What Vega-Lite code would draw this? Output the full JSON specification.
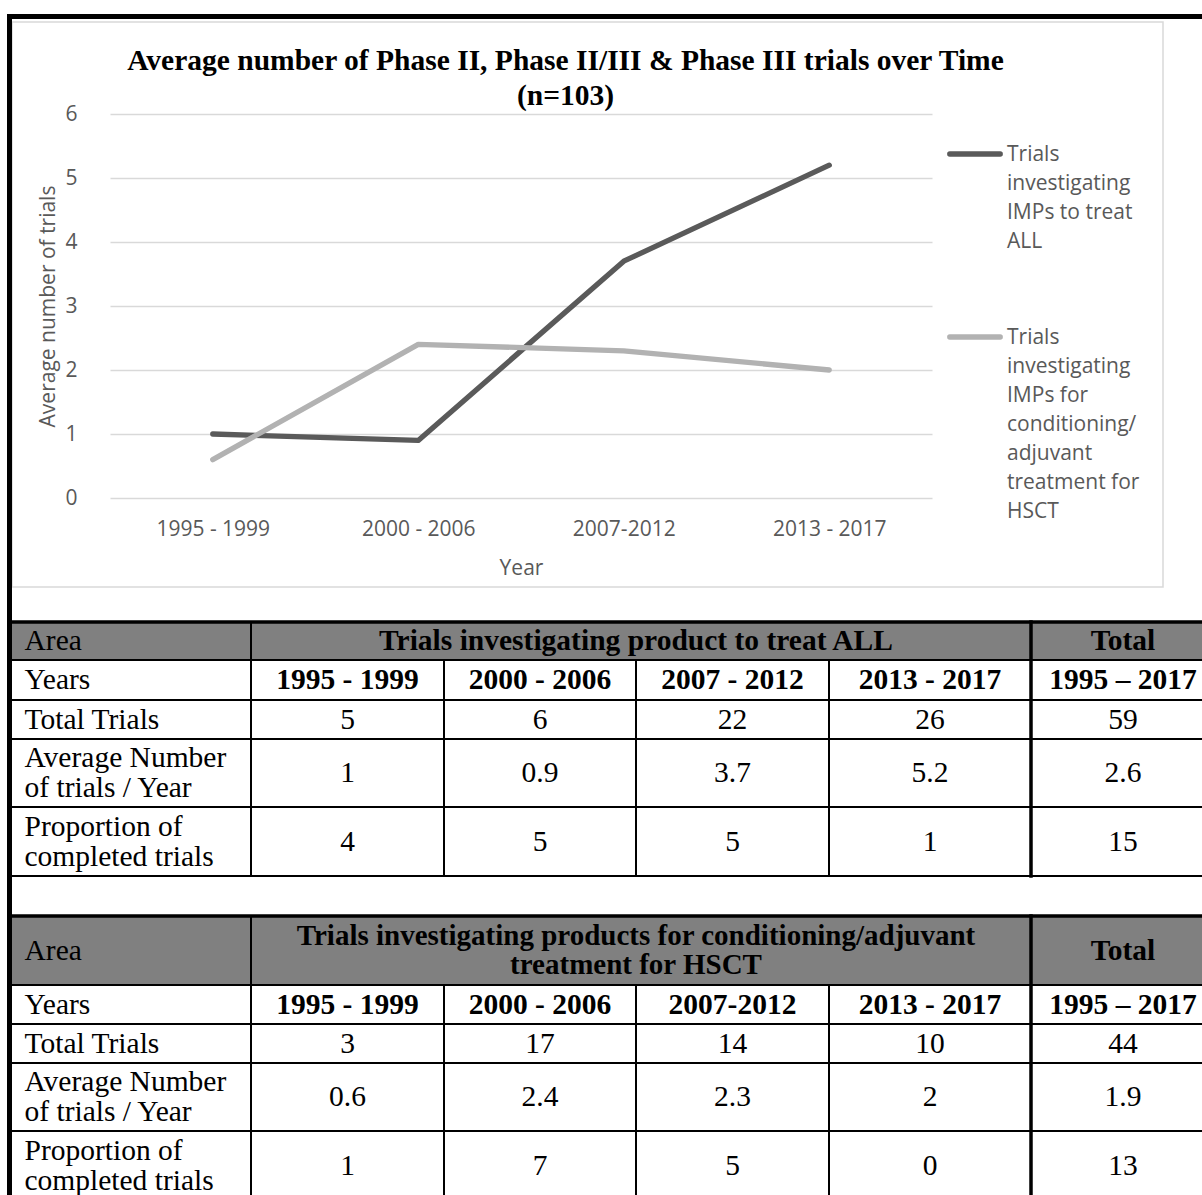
{
  "$schema": "https://vega.github.io/schema/vega-lite/v6.json",
  "width": 1151,
  "height": 565,
  "autosize": {"type": "none"},
  "padding": {"left": 12, "top": 22, "right": 39, "bottom": 608},
  "background": "white",
  "config": {
    "view": {"stroke": "#d9d9d9", "strokeWidth": 1.5},
    "font": "Liberation Serif"
  },
  "title": {
    "text": ["Average number of Phase II, Phase II/III & Phase III trials over Time", "(n=103)"],
    "font": "Liberation Serif",
    "fontSize": 29.5,
    "fontWeight": "bold",
    "color": "black",
    "anchor": "middle",
    "frame": "group",
    "dx": -22,
    "offset": -99,
    "lineHeight": 35
  },
  "datasets": {
    "averages": [
      {"period": "1995 - 1999", "series": "Trials investigating IMPs to treat ALL", "average": 1},
      {"period": "2000 - 2006", "series": "Trials investigating IMPs to treat ALL", "average": 0.9},
      {"period": "2007-2012", "series": "Trials investigating IMPs to treat ALL", "average": 3.7},
      {"period": "2013 - 2017", "series": "Trials investigating IMPs to treat ALL", "average": 5.2},
      {"period": "1995 - 1999", "series": "Trials investigating IMPs for conditioning/ adjuvant treatment for HSCT", "average": 0.6},
      {"period": "2000 - 2006", "series": "Trials investigating IMPs for conditioning/ adjuvant treatment for HSCT", "average": 2.4},
      {"period": "2007-2012", "series": "Trials investigating IMPs for conditioning/ adjuvant treatment for HSCT", "average": 2.3},
      {"period": "2013 - 2017", "series": "Trials investigating IMPs for conditioning/ adjuvant treatment for HSCT", "average": 2}
    ],
    "cells": [
      {"table": "ALL", "measure": "Area", "colStart": 0, "colEnd": 1, "rowStart": 1, "rowEnd": 2, "text": "Area"},
      {"table": "ALL", "measure": "Area", "colStart": 1, "colEnd": 5, "rowStart": 1, "rowEnd": 2, "text": "Trials investigating product to treat ALL"},
      {"table": "ALL", "measure": "Area", "colStart": 5, "colEnd": 6, "rowStart": 1, "rowEnd": 2, "text": "Total"},
      {"table": "ALL", "measure": "Years", "colStart": 0, "colEnd": 1, "rowStart": 2, "rowEnd": 3, "text": "Years"},
      {"table": "ALL", "measure": "Years", "colStart": 1, "colEnd": 2, "rowStart": 2, "rowEnd": 3, "text": "1995 - 1999"},
      {"table": "ALL", "measure": "Years", "colStart": 2, "colEnd": 3, "rowStart": 2, "rowEnd": 3, "text": "2000 - 2006"},
      {"table": "ALL", "measure": "Years", "colStart": 3, "colEnd": 4, "rowStart": 2, "rowEnd": 3, "text": "2007 - 2012"},
      {"table": "ALL", "measure": "Years", "colStart": 4, "colEnd": 5, "rowStart": 2, "rowEnd": 3, "text": "2013 - 2017"},
      {"table": "ALL", "measure": "Years", "colStart": 5, "colEnd": 6, "rowStart": 2, "rowEnd": 3, "text": "1995 – 2017"},
      {"table": "ALL", "measure": "Total", "colStart": 0, "colEnd": 1, "rowStart": 3, "rowEnd": 4, "text": "Total Trials"},
      {"table": "ALL", "measure": "Total", "colStart": 1, "colEnd": 2, "rowStart": 3, "rowEnd": 4, "text": "5"},
      {"table": "ALL", "measure": "Total", "colStart": 2, "colEnd": 3, "rowStart": 3, "rowEnd": 4, "text": "6"},
      {"table": "ALL", "measure": "Total", "colStart": 3, "colEnd": 4, "rowStart": 3, "rowEnd": 4, "text": "22"},
      {"table": "ALL", "measure": "Total", "colStart": 4, "colEnd": 5, "rowStart": 3, "rowEnd": 4, "text": "26"},
      {"table": "ALL", "measure": "Total", "colStart": 5, "colEnd": 6, "rowStart": 3, "rowEnd": 4, "text": "59"},
      {"table": "ALL", "measure": "Average", "colStart": 0, "colEnd": 1, "rowStart": 4, "rowEnd": 5, "text": "Average Number\nof trials / Year"},
      {"table": "ALL", "measure": "Average", "colStart": 1, "colEnd": 2, "rowStart": 4, "rowEnd": 5, "text": "1"},
      {"table": "ALL", "measure": "Average", "colStart": 2, "colEnd": 3, "rowStart": 4, "rowEnd": 5, "text": "0.9"},
      {"table": "ALL", "measure": "Average", "colStart": 3, "colEnd": 4, "rowStart": 4, "rowEnd": 5, "text": "3.7"},
      {"table": "ALL", "measure": "Average", "colStart": 4, "colEnd": 5, "rowStart": 4, "rowEnd": 5, "text": "5.2"},
      {"table": "ALL", "measure": "Average", "colStart": 5, "colEnd": 6, "rowStart": 4, "rowEnd": 5, "text": "2.6"},
      {"table": "ALL", "measure": "Completed", "colStart": 0, "colEnd": 1, "rowStart": 5, "rowEnd": 6, "text": "Proportion of\ncompleted trials"},
      {"table": "ALL", "measure": "Completed", "colStart": 1, "colEnd": 2, "rowStart": 5, "rowEnd": 6, "text": "4"},
      {"table": "ALL", "measure": "Completed", "colStart": 2, "colEnd": 3, "rowStart": 5, "rowEnd": 6, "text": "5"},
      {"table": "ALL", "measure": "Completed", "colStart": 3, "colEnd": 4, "rowStart": 5, "rowEnd": 6, "text": "5"},
      {"table": "ALL", "measure": "Completed", "colStart": 4, "colEnd": 5, "rowStart": 5, "rowEnd": 6, "text": "1"},
      {"table": "ALL", "measure": "Completed", "colStart": 5, "colEnd": 6, "rowStart": 5, "rowEnd": 6, "text": "15"},
      {"table": "HSCT", "measure": "Area", "colStart": 0, "colEnd": 1, "rowStart": 7, "rowEnd": 8, "text": "Area"},
      {"table": "HSCT", "measure": "Area", "colStart": 1, "colEnd": 5, "rowStart": 7, "rowEnd": 8, "text": "Trials investigating products for conditioning/adjuvant\ntreatment for HSCT"},
      {"table": "HSCT", "measure": "Area", "colStart": 5, "colEnd": 6, "rowStart": 7, "rowEnd": 8, "text": "Total"},
      {"table": "HSCT", "measure": "Years", "colStart": 0, "colEnd": 1, "rowStart": 8, "rowEnd": 9, "text": "Years"},
      {"table": "HSCT", "measure": "Years", "colStart": 1, "colEnd": 2, "rowStart": 8, "rowEnd": 9, "text": "1995 - 1999"},
      {"table": "HSCT", "measure": "Years", "colStart": 2, "colEnd": 3, "rowStart": 8, "rowEnd": 9, "text": "2000 - 2006"},
      {"table": "HSCT", "measure": "Years", "colStart": 3, "colEnd": 4, "rowStart": 8, "rowEnd": 9, "text": "2007-2012"},
      {"table": "HSCT", "measure": "Years", "colStart": 4, "colEnd": 5, "rowStart": 8, "rowEnd": 9, "text": "2013 - 2017"},
      {"table": "HSCT", "measure": "Years", "colStart": 5, "colEnd": 6, "rowStart": 8, "rowEnd": 9, "text": "1995 – 2017"},
      {"table": "HSCT", "measure": "Total", "colStart": 0, "colEnd": 1, "rowStart": 9, "rowEnd": 10, "text": "Total Trials"},
      {"table": "HSCT", "measure": "Total", "colStart": 1, "colEnd": 2, "rowStart": 9, "rowEnd": 10, "text": "3"},
      {"table": "HSCT", "measure": "Total", "colStart": 2, "colEnd": 3, "rowStart": 9, "rowEnd": 10, "text": "17"},
      {"table": "HSCT", "measure": "Total", "colStart": 3, "colEnd": 4, "rowStart": 9, "rowEnd": 10, "text": "14"},
      {"table": "HSCT", "measure": "Total", "colStart": 4, "colEnd": 5, "rowStart": 9, "rowEnd": 10, "text": "10"},
      {"table": "HSCT", "measure": "Total", "colStart": 5, "colEnd": 6, "rowStart": 9, "rowEnd": 10, "text": "44"},
      {"table": "HSCT", "measure": "Average", "colStart": 0, "colEnd": 1, "rowStart": 10, "rowEnd": 11, "text": "Average Number\nof trials / Year"},
      {"table": "HSCT", "measure": "Average", "colStart": 1, "colEnd": 2, "rowStart": 10, "rowEnd": 11, "text": "0.6"},
      {"table": "HSCT", "measure": "Average", "colStart": 2, "colEnd": 3, "rowStart": 10, "rowEnd": 11, "text": "2.4"},
      {"table": "HSCT", "measure": "Average", "colStart": 3, "colEnd": 4, "rowStart": 10, "rowEnd": 11, "text": "2.3"},
      {"table": "HSCT", "measure": "Average", "colStart": 4, "colEnd": 5, "rowStart": 10, "rowEnd": 11, "text": "2"},
      {"table": "HSCT", "measure": "Average", "colStart": 5, "colEnd": 6, "rowStart": 10, "rowEnd": 11, "text": "1.9"},
      {"table": "HSCT", "measure": "Completed", "colStart": 0, "colEnd": 1, "rowStart": 11, "rowEnd": 12, "text": "Proportion of\ncompleted trials"},
      {"table": "HSCT", "measure": "Completed", "colStart": 1, "colEnd": 2, "rowStart": 11, "rowEnd": 12, "text": "1"},
      {"table": "HSCT", "measure": "Completed", "colStart": 2, "colEnd": 3, "rowStart": 11, "rowEnd": 12, "text": "7"},
      {"table": "HSCT", "measure": "Completed", "colStart": 3, "colEnd": 4, "rowStart": 11, "rowEnd": 12, "text": "5"},
      {"table": "HSCT", "measure": "Completed", "colStart": 4, "colEnd": 5, "rowStart": 11, "rowEnd": 12, "text": "0"},
      {"table": "HSCT", "measure": "Completed", "colStart": 5, "colEnd": 6, "rowStart": 11, "rowEnd": 12, "text": "13"}
    ],
    "borders": [
      {"colStart": 0, "colEnd": 6, "rowStart": 0, "rowEnd": 0, "weight": "frame"},
      {"colStart": 0, "colEnd": 0, "rowStart": 0, "rowEnd": 12, "weight": "frame"},
      {"colStart": 0, "colEnd": 6, "rowStart": 1, "rowEnd": 1, "weight": "heavy"},
      {"colStart": 0, "colEnd": 6, "rowStart": 7, "rowEnd": 7, "weight": "heavy"},
      {"colStart": 5, "colEnd": 5, "rowStart": 1, "rowEnd": 6, "weight": "heavy"},
      {"colStart": 5, "colEnd": 5, "rowStart": 7, "rowEnd": 12, "weight": "heavy"}
    ]
  },
  "layer": [
    {
      "data": {"name": "averages"},
      "mark": {"type": "line", "strokeWidth": 5.3, "strokeCap": "round", "strokeJoin": "round"},
      "encoding": {
        "x": {
          "field": "period",
          "type": "ordinal",
          "scale": {"type": "point", "range": [98, 920], "padding": 0.5},
          "axis": {
            "title": "Year",
            "labelAngle": 0,
            "domain": false,
            "ticks": false,
            "grid": false,
            "labelPadding": -58,
            "labelBaseline": "middle",
            "labelFont": "Open Sans",
            "labelFontSize": 21,
            "labelColor": "#595959",
            "titleFont": "Open Sans",
            "titleFontSize": 21,
            "titleFontWeight": "normal",
            "titleColor": "#595959",
            "titleY": -19,
            "titleBaseline": "middle"
          }
        },
        "y": {
          "field": "average",
          "type": "quantitative",
          "scale": {"domain": [0, 6], "range": [476, 92], "nice": false},
          "axis": {
            "title": "Average number of trials",
            "values": [0, 1, 2, 3, 4, 5, 6],
            "domain": false,
            "ticks": false,
            "grid": true,
            "gridColor": "#d9d9d9",
            "gridWidth": 1.5,
            "labelPadding": -65,
            "labelFont": "Open Sans",
            "labelFontSize": 21,
            "labelColor": "#595959",
            "titleFont": "Open Sans",
            "titleFontSize": 21,
            "titleFontWeight": "normal",
            "titleColor": "#595959",
            "titleAngle": -90,
            "titleX": 36,
            "titleY": 284,
            "titleAlign": "center",
            "titleBaseline": "middle"
          }
        },
        "color": {
          "field": "series",
          "type": "nominal",
          "scale": {
            "domain": ["Trials investigating IMPs to treat ALL", "Trials investigating IMPs for conditioning/ adjuvant treatment for HSCT"],
            "range": ["#5a5a5a", "#b2b2b2"]
          },
          "legend": {
            "orient": "none",
            "legendX": 935,
            "legendY": 104,
            "title": null,
            "padding": 0,
            "symbolType": "stroke",
            "symbolStrokeWidth": 5.3,
            "symbolSize": 2550,
            "labelFont": "Open Sans",
            "labelFontSize": 21,
            "labelColor": "#595959",
            "labelLimit": 400,
            "labelOffset": 4,
            "labelBaseline": "top",
            "rowPadding": 57,
            "labelExpr": "split(trim(replace(datum.label, regexp('(.{1,14})(\\\\s+|$)', 'g'), '$1\\n')), '\\n')",
            "encode": {
              "labels": {"update": {"lineHeight": {"value": 29}, "dy": {"value": -10}}},
              "symbols": {"update": {"strokeCap": {"value": "round"}}}
            }
          }
        }
      }
    },
    {
      "layer": [
        {
          "data": {"name": "cells"},
          "mark": {"type": "rect", "stroke": "black", "strokeWidth": 2},
          "encoding": {
            "x": {
              "field": "colStart",
              "type": "quantitative",
              "scale": {"domain": [0, 1, 2, 3, 4, 5, 6], "range": [-2.5, 239, 432, 624, 817, 1019, 1203], "nice": false, "zero": false},
              "axis": null
            },
            "x2": {"field": "colEnd"},
            "y": {
              "field": "rowStart",
              "type": "quantitative",
              "scale": {"domain": [0, 1, 2, 3, 4, 5, 6, 7, 8, 9, 10, 11, 12], "range": [-5.5, 600, 638, 678, 717, 785, 854, 894, 963, 1002, 1041, 1109, 1178], "nice": false, "zero": false},
              "axis": null
            },
            "y2": {"field": "rowEnd"},
            "fill": {"condition": {"test": "datum.measure === 'Area'", "value": "#808080"}, "value": "white"}
          }
        },
        {
          "data": {"name": "borders"},
          "mark": {"type": "rule", "color": "black", "strokeCap": "square"},
          "encoding": {
            "x": {"field": "colStart", "type": "quantitative", "axis": null},
            "x2": {"field": "colEnd"},
            "y": {"field": "rowStart", "type": "quantitative", "axis": null},
            "y2": {"field": "rowEnd"},
            "size": {"field": "weight", "type": "ordinal", "scale": {"domain": ["frame", "heavy"], "range": [5, 3.5]}, "legend": null}
          }
        },
        {
          "data": {"name": "cells"},
          "transform": [
            {"filter": "datum.colStart === 0 && indexof(datum.text, '\\n') < 0"},
            {"fold": ["colStart", "colEnd"], "as": ["colEdge", "colPos"]},
            {"fold": ["rowStart", "rowEnd"], "as": ["rowEdge", "rowPos"]}
          ],
          "mark": {"type": "text", "align": "left", "baseline": "middle", "dx": 15, "font": "Liberation Serif", "fontSize": 29.5, "color": "black"},
          "encoding": {
            "x": {"aggregate": "min", "field": "colPos", "type": "quantitative", "axis": null},
            "y": {"aggregate": "mean", "field": "rowPos", "type": "quantitative", "axis": null},
            "text": {"field": "text", "type": "nominal"},
            "detail": [{"field": "table", "type": "nominal"}, {"field": "measure", "type": "nominal"}]
          }
        },
        {
          "data": {"name": "cells"},
          "transform": [
            {"filter": "datum.colStart === 0 && indexof(datum.text, '\\n') >= 0"},
            {"fold": ["colStart", "colEnd"], "as": ["colEdge", "colPos"]},
            {"fold": ["rowStart", "rowEnd"], "as": ["rowEdge", "rowPos"]}
          ],
          "mark": {"type": "text", "align": "left", "baseline": "middle", "dx": 15, "dy": -15, "font": "Liberation Serif", "fontSize": 29.5, "lineBreak": "\n", "lineHeight": 30, "color": "black"},
          "encoding": {
            "x": {"aggregate": "min", "field": "colPos", "type": "quantitative", "axis": null},
            "y": {"aggregate": "mean", "field": "rowPos", "type": "quantitative", "axis": null},
            "text": {"field": "text", "type": "nominal"},
            "detail": [{"field": "table", "type": "nominal"}, {"field": "measure", "type": "nominal"}]
          }
        },
        {
          "data": {"name": "cells"},
          "transform": [
            {"filter": "datum.colStart > 0 && (datum.measure === 'Area' || datum.measure === 'Years') && indexof(datum.text, '\\n') < 0"},
            {"fold": ["colStart", "colEnd"], "as": ["colEdge", "colPos"]},
            {"fold": ["rowStart", "rowEnd"], "as": ["rowEdge", "rowPos"]}
          ],
          "mark": {"type": "text", "align": "center", "baseline": "middle", "font": "Liberation Serif", "fontSize": 29.5, "fontWeight": "bold", "color": "black"},
          "encoding": {
            "x": {"aggregate": "mean", "field": "colPos", "type": "quantitative", "axis": null},
            "y": {"aggregate": "mean", "field": "rowPos", "type": "quantitative", "axis": null},
            "text": {"field": "text", "type": "nominal"},
            "detail": [{"field": "table", "type": "nominal"}, {"field": "measure", "type": "nominal"}, {"field": "colStart", "type": "nominal"}]
          }
        },
        {
          "data": {"name": "cells"},
          "transform": [
            {"filter": "datum.colStart > 0 && datum.measure === 'Area' && indexof(datum.text, '\\n') >= 0"},
            {"fold": ["colStart", "colEnd"], "as": ["colEdge", "colPos"]},
            {"fold": ["rowStart", "rowEnd"], "as": ["rowEdge", "rowPos"]}
          ],
          "mark": {"type": "text", "align": "center", "baseline": "middle", "dy": -14.5, "font": "Liberation Serif", "fontSize": 29, "fontWeight": "bold", "lineBreak": "\n", "lineHeight": 29, "color": "black"},
          "encoding": {
            "x": {"aggregate": "mean", "field": "colPos", "type": "quantitative", "axis": null},
            "y": {"aggregate": "mean", "field": "rowPos", "type": "quantitative", "axis": null},
            "text": {"field": "text", "type": "nominal"},
            "detail": [{"field": "table", "type": "nominal"}, {"field": "colStart", "type": "nominal"}]
          }
        },
        {
          "data": {"name": "cells"},
          "transform": [
            {"filter": "datum.colStart > 0 && datum.measure !== 'Area' && datum.measure !== 'Years'"},
            {"fold": ["colStart", "colEnd"], "as": ["colEdge", "colPos"]},
            {"fold": ["rowStart", "rowEnd"], "as": ["rowEdge", "rowPos"]}
          ],
          "mark": {"type": "text", "align": "center", "baseline": "middle", "font": "Liberation Serif", "fontSize": 29.5, "color": "black"},
          "encoding": {
            "x": {"aggregate": "mean", "field": "colPos", "type": "quantitative", "axis": null},
            "y": {"aggregate": "mean", "field": "rowPos", "type": "quantitative", "axis": null},
            "text": {"field": "text", "type": "nominal"},
            "detail": [{"field": "table", "type": "nominal"}, {"field": "measure", "type": "nominal"}, {"field": "colStart", "type": "nominal"}]
          }
        }
      ]
    }
  ],
  "resolve": {"scale": {"x": "independent", "y": "independent"}}
}
